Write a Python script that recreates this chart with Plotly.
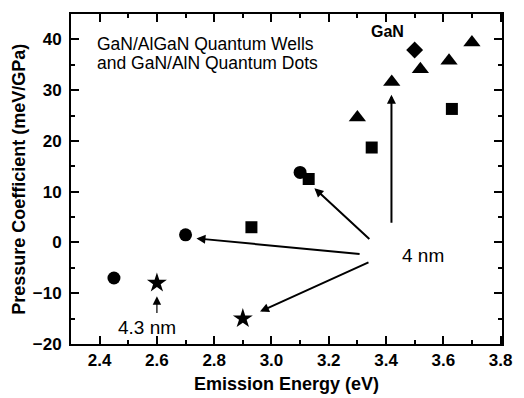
import plotly.graph_objects as go

# Data
circle_x = [2.45, 2.70, 3.10]
circle_y = [-7.0, 1.5, 13.8]
star_x = [2.60, 2.90]
star_y = [-8.0, -15.0]
square_x = [2.93, 3.13, 3.35, 3.63]
square_y = [3.0, 12.5, 18.7, 26.3]
tri_x = [3.30, 3.42, 3.52, 3.62, 3.70]
tri_y = [24.6, 31.6, 34.1, 35.8, 39.4]
dia_x = [3.50]
dia_y = [37.9]

FONT = "Liberation Sans, Arial, sans-serif"

fig = go.Figure()
def add(xs, ys, sym, size):
    fig.add_trace(go.Scatter(x=xs, y=ys, mode="markers",
                             marker=dict(symbol=sym, size=size, color="black", line=dict(width=0)),
                             showlegend=False, hoverinfo="skip"))
add(circle_x, circle_y, "circle", 13)
add(star_x, star_y, "star", 15)
add(square_x, square_y, "square", 12)
add(tri_x, tri_y, "triangle-up", 15)
add(dia_x, dia_y, "diamond", 13)

ann = []
# arrows: (head_x, head_y, tail_x, tail_y, width)
arrows = [
    (3.15, 10.7, 3.347, 0.4, 2),
    (2.738, 0.8, 3.313, -2.3, 2),
    (2.96, -13.6, 3.344, -3.8, 2),
    (3.419, 29.1, 3.419, 3.6, 2),
    (2.60, -10.6, 2.60, -14.2, 1.2),
]
for hx, hy, tx, ty, w in arrows:
    ann.append(dict(x=hx, y=hy, ax=tx, ay=ty, xref="x", yref="y", axref="x", ayref="y",
                    text="", showarrow=True, arrowhead=2, arrowsize=0.9 if w > 1.5 else 1.4,
                    arrowwidth=w, arrowcolor="black"))
ann.append(dict(x=3.528, y=-2.6, xref="x", yref="y", text="4 nm", showarrow=False,
                font=dict(family=FONT, size=19, color="black")))
ann.append(dict(x=2.564, y=-16.8, xref="x", yref="y", text="4.3 nm", showarrow=False,
                font=dict(family=FONT, size=19, color="black")))
ann.append(dict(x=3.405, y=41.6, xref="x", yref="y", text="GaN", showarrow=False,
                font=dict(family=FONT, size=16, color="black", weight="bold")))
ann.append(dict(x=2.385, y=39.0, xref="x", yref="y", text="GaN/AlGaN Quantum Wells",
                showarrow=False, xanchor="left", yanchor="middle",
                font=dict(family=FONT, size=17.5, color="black")))
ann.append(dict(x=2.385, y=35.3, xref="x", yref="y", text="and GaN/AlN Quantum Dots",
                showarrow=False, xanchor="left", yanchor="middle",
                font=dict(family=FONT, size=17.5, color="black")))
ann.append(dict(x=0.5, y=-0.122, xref="paper", yref="paper", text="Emission Energy (eV)", showarrow=False,
                xanchor="center", yanchor="middle",
                font=dict(family=FONT, size=18, color="black", weight="bold")))
ann.append(dict(x=-0.121, y=0.5, xref="paper", yref="paper", text="Pressure Coefficient (meV/GPa)",
                showarrow=False, textangle=-90, xanchor="center", yanchor="middle",
                font=dict(family=FONT, size=18, color="black", weight="bold")))

axis_common = dict(showgrid=False, zeroline=False, showline=True, linecolor="black", linewidth=2,
                   mirror="ticks", ticks="inside", ticklen=8, tickwidth=2, tickcolor="black",
                   tickfont=dict(family=FONT, size=17, color="black", weight="bold"))
fig.update_layout(
    width=524, height=398,
    margin=dict(l=71, r=14, t=12, b=54),
    paper_bgcolor="white", plot_bgcolor="white",
    xaxis=dict(range=[2.3, 3.805], dtick=0.2, tick0=0, tickformat=".1f",
               minor=dict(dtick=0.1, ticks="inside", ticklen=4, tickwidth=2, tickcolor="black"),
               **axis_common),
    yaxis=dict(range=[-20, 45], dtick=10, tick0=0,
               minor=dict(dtick=5, ticks="inside", ticklen=4, tickwidth=2, tickcolor="black"),
               ticklabelstandoff=4,
               **axis_common),
    annotations=ann,
)
fig.write_html("out.html")
